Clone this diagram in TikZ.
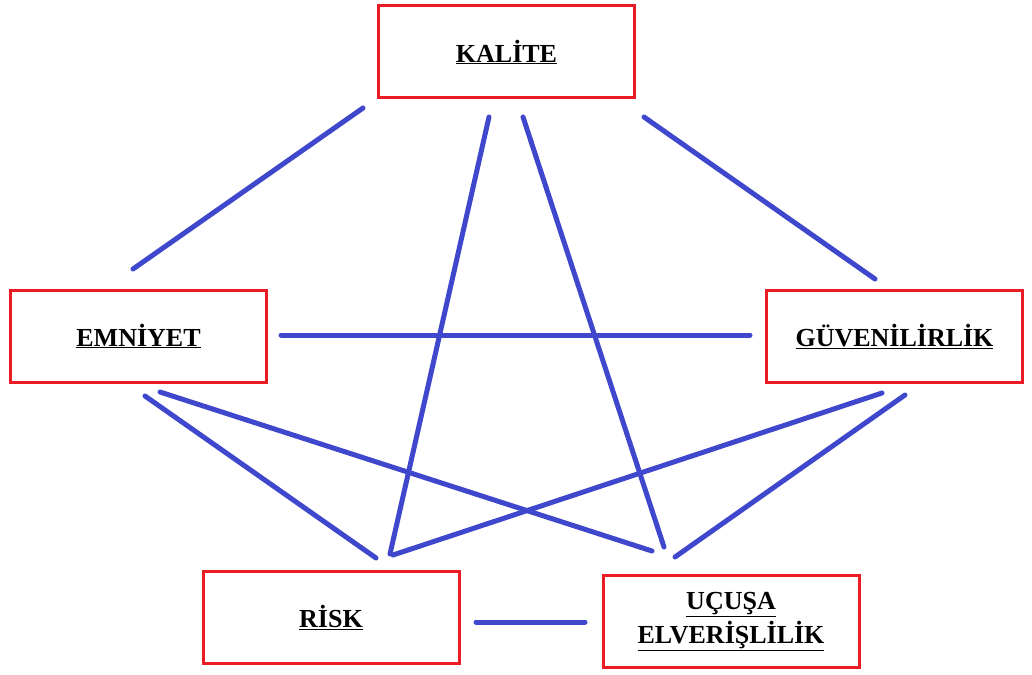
\documentclass[tikz,border=0pt]{standalone}
\usepackage{fontspec}
\setmainfont{Liberation Serif}
\tikzset{
  box/.style={draw=boxred, line width=3pt, minimum width=256pt, minimum height=92pt, inner sep=0pt, align=center, font=\bfseries\fontsize{26}{30}\selectfont},
  link/.style={draw=linkblue, line width=5pt, line cap=round}
}
\definecolor{boxred}{HTML}{ED1C24}
\definecolor{linkblue}{HTML}{3F48CC}
\begin{document}
\begin{tikzpicture}[x=1pt,y=-1pt]
\useasboundingbox (0,0) rectangle (1032,674);
\node[box] (kal) at (506.5,52) {\underline{KALİTE}};
\node[box] (emn) at (138.5,336) {\underline{EMNİYET}};
\node[box] (guv) at (894.5,336.5) {\underline{GÜVENİLİRLİK}};
\node[box] (risk) at (331,617.5) {\underline{RİSK}};
\node[box] (ucu) at (731,621.5) {\underline{UÇUŞA}\\[4pt]\underline{ELVERİŞLİLİK}};
\draw[link] ([shift={(-143.5,56)}]kal.center) -- ([shift={(-5.5,-67)}]emn.center);
\draw[link] ([shift={(-17.5,65)}]kal.center) -- ([shift={(59,-63.5)}]risk.center);
\draw[link] ([shift={(16.5,65)}]kal.center) -- ([shift={(-67,-74.5)}]ucu.center);
\draw[link] ([shift={(137.5,65)}]kal.center) -- ([shift={(-19.5,-57.5)}]guv.center);
\draw[link] ([shift={(142.5,-1)}]emn.center) -- ([shift={(-144.5,-1.5)}]guv.center);
\draw[link] ([shift={(6.5,60)}]emn.center) -- ([shift={(45,-59.5)}]risk.center);
\draw[link] ([shift={(21.5,56)}]emn.center) -- ([shift={(-79,-70.5)}]ucu.center);
\draw[link] ([shift={(-12.5,56.5)}]guv.center) -- ([shift={(62,-62.5)}]risk.center);
\draw[link] ([shift={(10.5,58.5)}]guv.center) -- ([shift={(-56,-64.5)}]ucu.center);
\draw[link] ([shift={(145,4.5)}]risk.center) -- ([shift={(-146,0.5)}]ucu.center);
\end{tikzpicture}
\end{document}
